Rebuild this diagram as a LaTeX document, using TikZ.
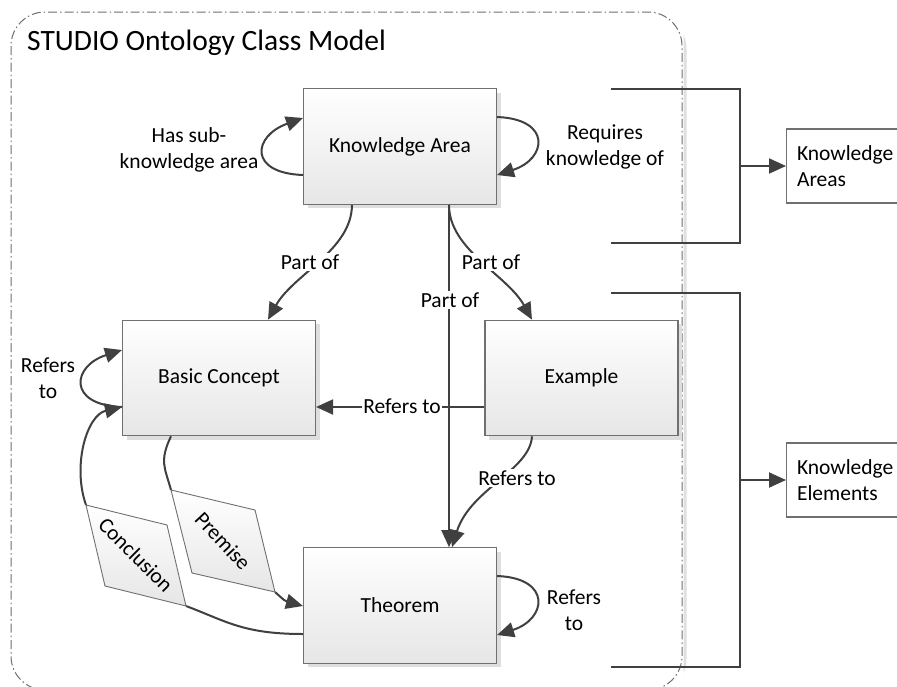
\documentclass[tikz,border=0pt]{standalone}
\usepackage{fontspec}
\setmainfont{Carlito}
\usetikzlibrary{arrows.meta,calc,shadows}
\definecolor{ln}{HTML}{404040}
\definecolor{bd}{HTML}{707070}
\definecolor{bot}{HTML}{E6E6E6}
\newcommand\lblfnt{\fontsize{21.5}{25.5}\selectfont}
\begin{document}
\begin{tikzpicture}[x=1pt,y=-1pt,
  clsbox/.style={draw=bd, line width=1.1pt, top color=white, bottom color=bot,
    minimum width=193pt, minimum height=115.5pt, font=\lblfnt, text=black,
    drop shadow={shadow xshift=4pt, shadow yshift=-4pt, fill=black!13, opacity=1}},
  tgt/.style={draw=bd, line width=1.1pt, fill=white, anchor=west, minimum height=74pt,
    text width=112pt, inner xsep=10.5pt, align=left, font=\lblfnt, text=black},
  conn/.style={draw=ln, line width=2pt, -{Triangle[length=17pt,width=15pt]}},
  plain/.style={draw=ln, line width=2pt},
  lab/.style={fill=white, inner sep=1.5pt, font=\lblfnt, align=center, text=black},
  para/.style={top color=white, bottom color=bot, draw=bd, line width=0.9pt}]
\useasboundingbox (0,0) rectangle (897,686);
\clip (0,0) rectangle (897,686);
\fill[white] (0,0) rectangle (897,686);

% container
\begin{scope}
  \clip (683.5,0) rectangle (897,686);
  \draw[black!12, line width=3pt, rounded corners=34pt] (14,15) rectangle (685,693);
\end{scope}
\draw[bd, line width=1pt, dash pattern=on 9pt off 3pt on 1.5pt off 3pt, rounded corners=34pt]
  (11,12) rectangle (682,690);
\node[anchor=base west, font=\fontsize{29.5}{35}\selectfont, inner sep=0, text=black] (title) at (27,50) {STUDIO Ontology Class Model};

% class boxes
\node[clsbox] (ka) at (400,146.5) {Knowledge Area};
\node[clsbox] (bc) at (219,378) {Basic Concept};
\node[clsbox] (ex) at (581.5,378) {Example};
\node[clsbox] (th) at (400,605.5) {Theorem};

% target boxes
\node[tgt] (kas) at (786,166) {Knowledge\\Areas};
\node[tgt] (kes) at (786,480) {Knowledge\\Elements};

% self loops
\draw[conn] ($(ka.west)+(0,28.5)$) .. controls +(-55,-2) and +(-50,18) .. ($(ka.west)+(0,-28.5)$);
\node[lab] (lhas) at (189,150) {Has sub-\\knowledge area};
\draw[conn] ($(ka.east)+(0,-29.5)$) .. controls +(55,2) and +(50,-16) .. ($(ka.east)+(0,28.5)$);
\node[lab] (lreq) at (605,147) {Requires\\knowledge of};
\draw[conn] ($(th.east)+(0,-29.5)$) .. controls +(55,2) and +(50,-16) .. ($(th.east)+(0,29.5)$);
\node[lab] (lthr) at (574,610) {Refers\\to};
\draw[conn] ($(bc.west)+(0,29)$) .. controls +(-55,-2) and +(-50,16) .. ($(bc.west)+(0,-28)$);
\node[lab] (lbcr) at (48,378) {Refers\\to};

% part of
\draw[conn] ($(ka.south west)+(49,0)$) .. controls +(0,45) and +(25,-45) .. ($(bc.north)+(49,0)$);
\node[lab] (lp1) at (310,262) {Part of};
\draw[conn] ($(ka.south)+(49,0)$) .. controls +(0,45) and +(-25,-45) .. ($(ex.north)+(-49.5,0)$);
\node[lab] (lp2) at (491,262) {Part of};
\draw[conn] ($(ka.south)+(49,0)$) -- ($(th.north)+(49,0)$);
\node[lab] (lp3) at (450,300) {Part of};

% refers to
\draw[conn] ($(ex.west)+(0,29)$) -- ($(bc.east)+(0,29)$);
\node[lab] (lr1) at (402,406) {Refers to};
\draw[conn] ($(ex.south)+(-49.5,0)$) .. controls +(-2,34) and +(18,-58) .. ($(th.north)+(52,0)$);
\node[lab] (lr2) at (517,478) {Refers to};

% premise
\coordinate (p1) at (171,490);
\coordinate (p2) at (255,510);
\coordinate (p3) at (275,592);
\coordinate (p4) at (192,573);
\draw[plain] ($(bc.south)+(-48,0)$) .. controls +(-12,25) and +(-6,-22) .. (p1);
\draw[conn] (p3) .. controls +(10,9) .. ($(th.west)+(0,0.5)$);
\shade[para] (p1) -- (p2) -- (p3) -- (p4) -- cycle;
\node[font=\lblfnt, rotate=-47, text=black] (prem) at (223,541) {Premise};

% conclusion
\coordinate (c1) at (86,505);
\coordinate (c2) at (167,525);
\coordinate (c3) at (186,606);
\coordinate (c4) at (105,586);
\draw[plain] ($(th.west)+(0,28.5)$) .. controls +(-60,0) and +(40,15) .. (c3);
\draw[conn] (c1) .. controls +(-14,-40) and +(-35,8) .. ($(bc.west)+(0,29)$);
\shade[para] (c1) -- (c2) -- (c3) -- (c4) -- cycle;
\node[font=\lblfnt, rotate=-45, text=black] (concl) at (136,555) {Conclusion};

% brackets
\coordinate (a1) at (611,89);
\coordinate (a2) at (740,89);
\coordinate (a3) at (740,243);
\coordinate (a4) at (611,243);
\coordinate (am) at (740,166);
\draw[plain] (a1) -- (a2) -- (a3) -- (a4);
\draw[conn] (am) -- (kas.west);
\coordinate (e1) at (611,293);
\coordinate (e2) at (740,293);
\coordinate (e3) at (740,667);
\coordinate (e4) at (611,667);
\coordinate (em) at (740,480);
\draw[plain] (e1) -- (e2) -- (e3) -- (e4);
\draw[conn] (em) -- (kes.west);
\end{tikzpicture}
\end{document}
